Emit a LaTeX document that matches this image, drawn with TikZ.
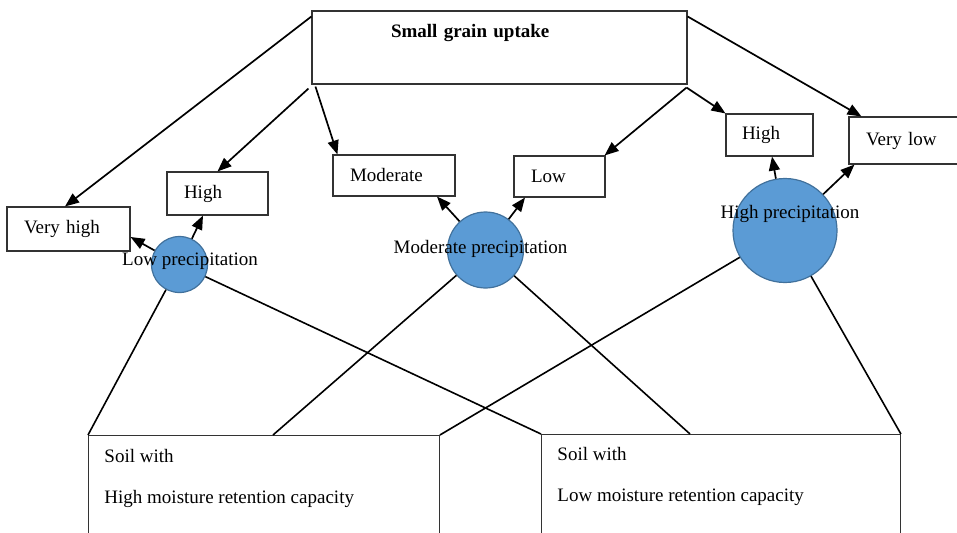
\documentclass[tikz,border=0pt]{standalone}
\usepackage{fontspec}
\setmainfont{Liberation Serif}
\usetikzlibrary{arrows.meta,calc}
\definecolor{circfill}{HTML}{5B9BD5}
\definecolor{circline}{HTML}{41719C}
\definecolor{boxline}{HTML}{333333}
\newcommand{\soiltext}[4]{\parbox[c][130pt][t]{#1}{\fontsize{19}{41}\selectfont\raggedright\leftskip=16pt\rule{0pt}{#2}#3\\#4}}
\begin{document}
\begin{tikzpicture}[x=1pt,y=-1pt,
  every node/.style={font=\fontsize{19}{22}\selectfont},
  box/.style={draw=boxline, line width=1.1pt, rectangle, align=left, inner xsep=17pt, inner ysep=0pt},
  soilbox/.style={draw=boxline, line width=0.9pt, rectangle, anchor=north west, inner sep=0pt},
  circ/.style={circle, draw=circline, fill=circfill, line width=1.2pt, inner sep=0pt},
  arr/.style={line width=1.7pt, -{Triangle[length=14pt,width=11pt]}},
  link/.style={line width=1.6pt}]
\useasboundingbox (0,0) rectangle (957,532);

% top box
\node[box, text width=217pt, inner xsep=79pt, text height=27pt, text depth=46pt,
      font=\fontsize{19}{22}\selectfont\bfseries] (top) at (499.5,47.5) {Small grain uptake};

% outcome boxes
\node[box, text width=89pt, minimum height=44pt] (vh) at (68.5,229) {Very high};
\node[box, text width=67pt, minimum height=43pt] (hl) at (217.5,193.5) {High};
\node[box, text width=88pt, minimum height=41pt] (mod) at (394,175.5) {Moderate};
\node[box, text width=57pt, minimum height=41pt] (low) at (559.5,176.5) {Low};
\node[box, text width=55pt, inner xsep=16pt, minimum height=42pt] (hr) at (769.5,135) {High};
\node[box, text width=77pt, minimum height=47pt] (vl) at (904.5,140.5) {Very low};

% soil boxes
\node[soilbox] (hm) at (88,435) {\soiltext{351pt}{27pt}{Soil with}{High moisture retention capacity}};
\node[soilbox] (lm) at (541,434) {\soiltext{359pt}{26pt}{Soil with}{Low moisture retention capacity}};

% precipitation circles
\node[circ, minimum size=56pt, label={[shift={(10.5,-3.5)}]center:Low precipitation}] (lowc) at (179.5,264.5) {};
\node[circ, minimum size=76pt, label={[shift={(-5,-1)}]center:Moderate precipitation}] (modc) at (485.5,250) {};
\node[circ, minimum size=104pt, label={[shift={(5,-16.5)}]center:High precipitation}] (highc) at (785,230.5) {};

% links from circles to soils
\draw[link] (lowc) -- (hm.north west);
\draw[link] (lowc) -- (lm.north west);
\draw[link] (modc) -- ([xshift=185pt]hm.north west);
\draw[link] (modc) -- ([xshift=149pt]lm.north west);
\draw[link] (highc) -- (hm.north east);
\draw[link] (highc) -- (lm.north east);

% arrows from top box
\draw[arr] ([yshift=-6pt]top.north west) -- ([xshift=-3.5pt]vh.north);
\draw[arr] ([xshift=-3pt,yshift=-4pt]top.south west) -- (hl.north);
\draw[arr] ([xshift=4pt,yshift=-2pt]top.south west) -- ([xshift=5pt]mod.north west);
\draw[arr] ([xshift=-1pt,yshift=-3pt]top.south east) -- ([xshift=-1pt]low.north east);
\draw[arr] ([xshift=-1pt,yshift=-3pt]top.south east) -- (hr.north west);
\draw[arr] ([yshift=-6pt]top.north east) -- ([xshift=13pt]vl.north west);

% arrows from circles
\draw[arr] (lowc) -- ([yshift=-8pt]vh.east);
\draw[arr] (lowc) -- ([xshift=-14.5pt]hl.south);
\draw[arr] (modc) -- ([xshift=43pt]mod.south);
\draw[arr] (modc) -- ([xshift=-34.5pt]low.south);
\draw[arr] (highc) -- ([xshift=2.5pt]hr.south);
\draw[arr] (highc) -- ([xshift=6pt]vl.south west);
\end{tikzpicture}
\end{document}
